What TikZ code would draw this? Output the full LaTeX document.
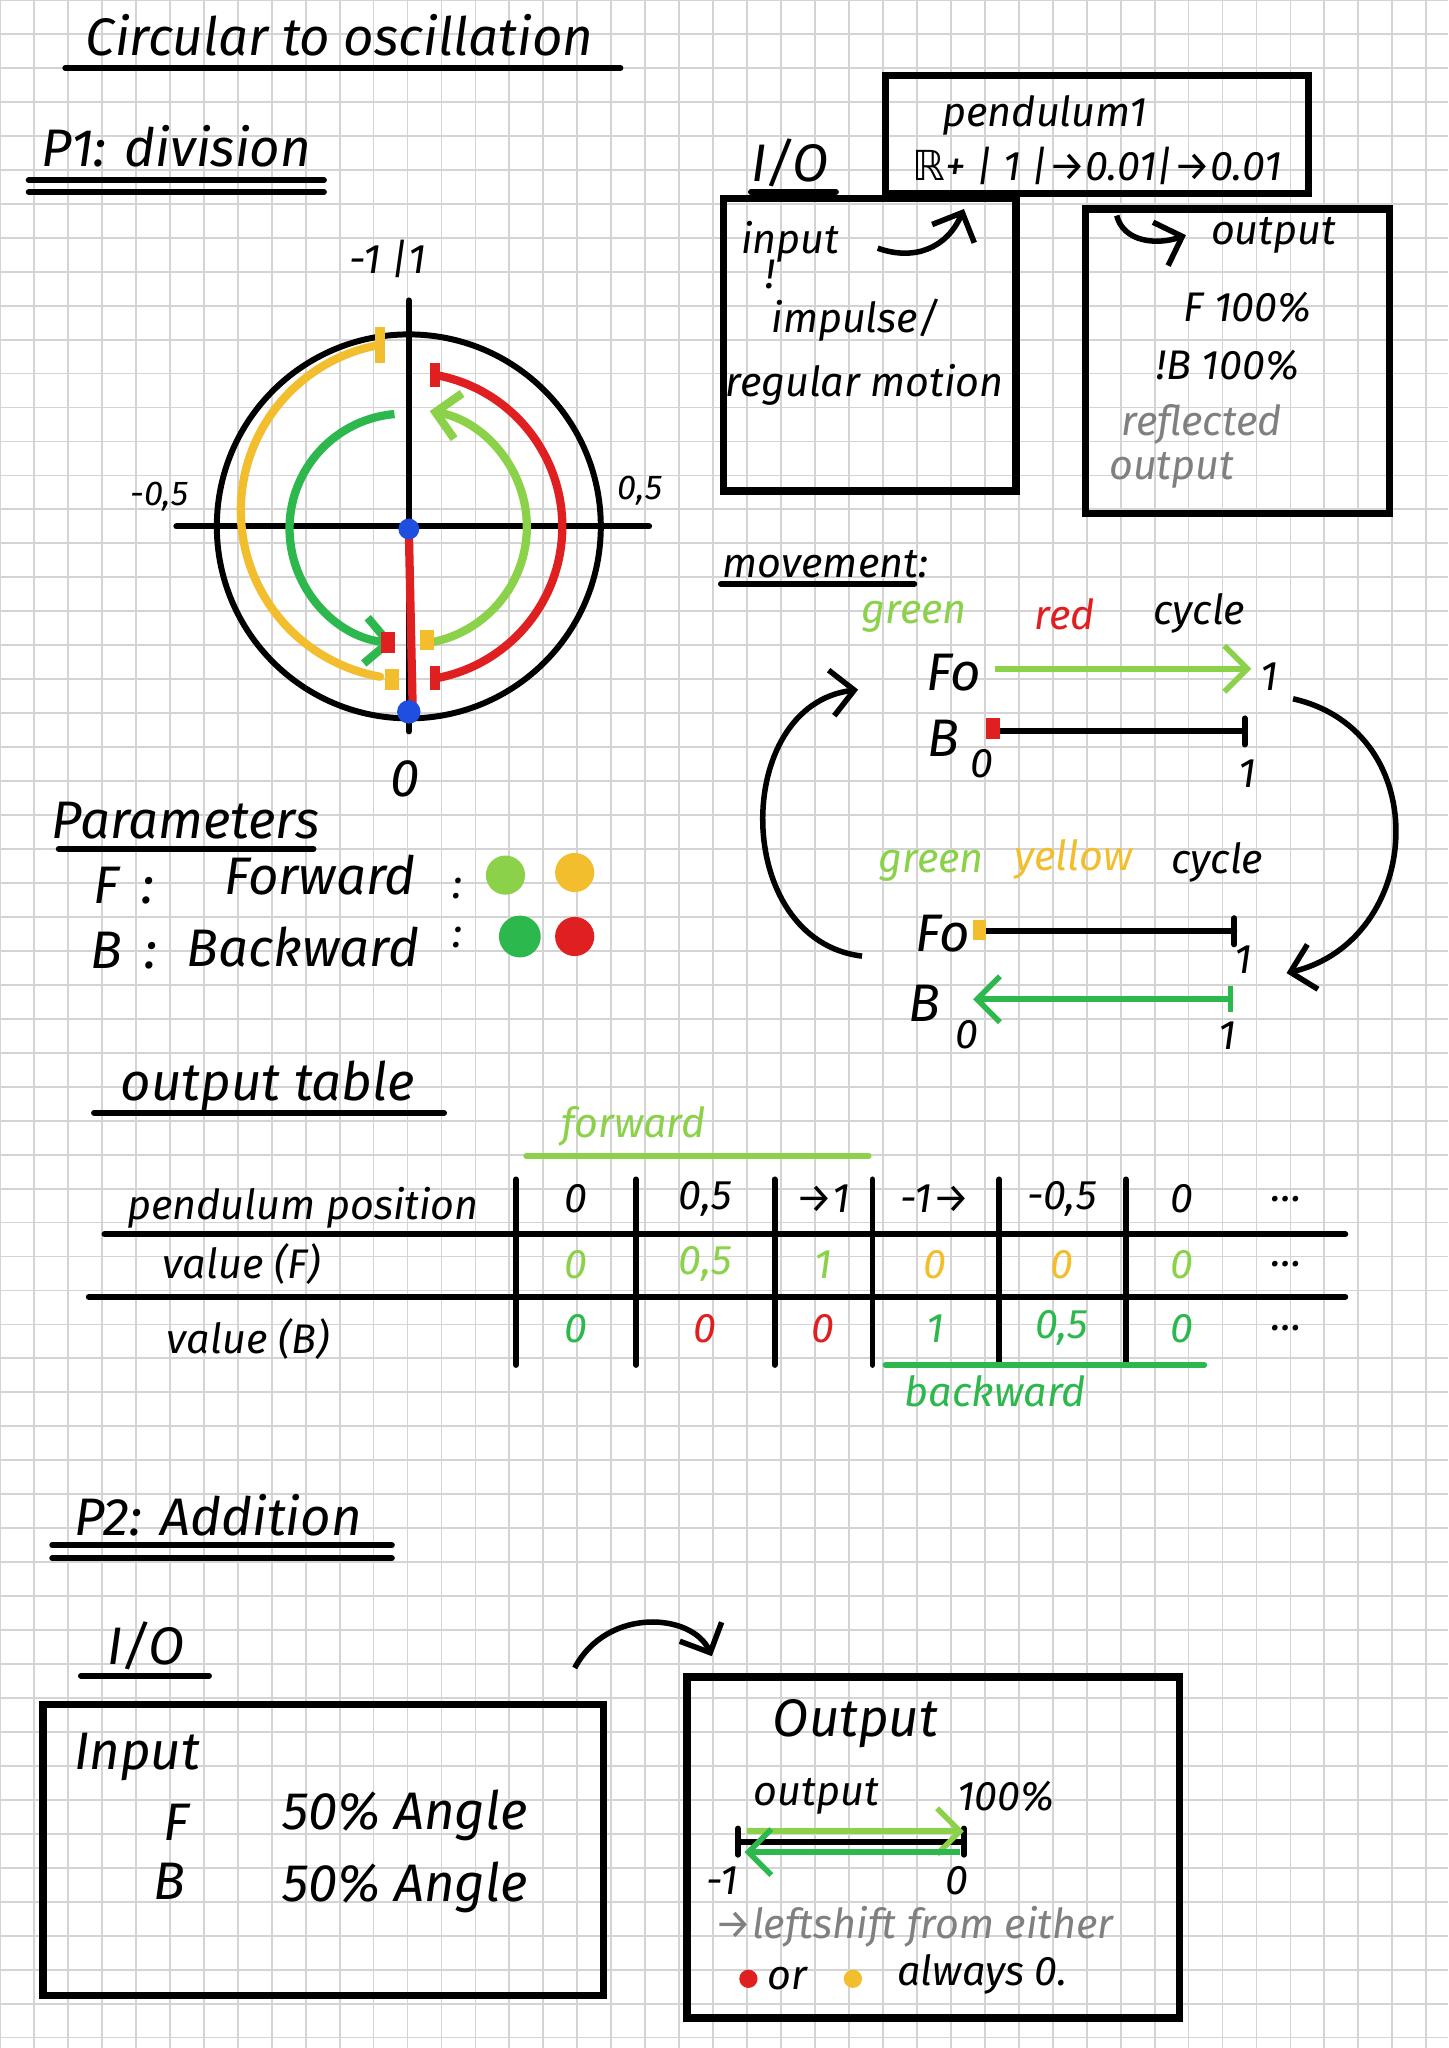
\documentclass[tikz,border=0pt]{standalone}
\usepackage{fontspec}
\setmainfont{Fira Sans}
\newfontfamily\djv{DejaVu Sans}
\usetikzlibrary{arrows.meta}
\definecolor{lg}{HTML}{8BD14A}
\definecolor{dg}{HTML}{2DB84D}
\definecolor{rd}{HTML}{E02020}
\definecolor{yl}{HTML}{F2BE2E}
\definecolor{bl}{HTML}{1E4FE0}
\definecolor{gridc}{HTML}{D4D4D4}
\tikzset{
  hw/.style={font=\fontsize{9}{10}\selectfont\itshape, inner sep=1pt},
  big/.style={font=\fontsize{11.5}{12}\selectfont\itshape, inner sep=1pt},
  sm/.style={font=\fontsize{7.5}{8}\selectfont\itshape, inner sep=1pt},
  ln/.style={line width=1.3pt, line cap=round},
  box/.style={line width=1.6pt},
  arr/.style={line width=1.2pt,-{Straight Barb[length=5pt]}},
}
\begin{document}
\begin{tikzpicture}[x=0.01cm,y=-0.01cm]
\useasboundingbox (0,0) rectangle (1109,1568);
\fill[white] (0,0) rectangle (1109,1568);
\foreach \i in {0,...,43} \draw[gridc, line width=0.4pt] (\i*26,0) -- (\i*26,1568);
\foreach \i in {0,...,61} \draw[gridc, line width=0.4pt] (0,\i*26) -- (1109,\i*26);
% title
\node[big] (title) at (260,27) {Circular to oscillation};
\draw[ln] (50,52) -- (475,52);
\node[big] (p1) at (135,112) {P1: division};
\draw[ln] (22,138) -- (248,138); \draw[ln] (22,147) -- (248,147);
% circle
\draw[ln] (313,403) circle[radius=147];
\draw[ln] (135,403) -- (497,403);
\draw[ln] (313,230) -- (313,560);
\node[hw] (lm1) at (297,198) {-1 |1};
\node[sm] (lm05) at (122,380) {-0,5};
\node[sm] (lp05) at (490,376) {0,5};
\node[big] (l0) at (310,596) {0};
\draw[yl, ln, line width=1.8pt] (291,264) arc[start angle=260,end angle=100,radius=129];
\draw[yl, line width=2pt] (291,250) -- (291,278);
\draw[dg, arr, line width=1.8pt] (302,317) arc[start angle=265,end angle=95,radius=88];
\draw[rd, ln, line width=1.8pt] (333,287) arc[start angle=280,end angle=440,radius=118];
\draw[rd, line width=2pt] (333,278) -- (333,296);
\draw[rd, line width=2pt] (333,510) -- (333,528);
\draw[lg, arr, line width=1.8pt] (329,492) arc[start angle=80,end angle=-80,radius=90];
\draw[rd, line width=3pt] (297,484) -- (297,500);
\draw[yl, line width=3pt] (327,482) -- (327,498);
\draw[yl, line width=3pt] (300,512) -- (300,528);
\draw[rd, line width=1.8pt] (313,405) -- (316,545);
\fill[bl] (313,405) circle[radius=8];
\fill[bl] (313,545) circle[radius=9];
% parameters
\node[big] (par) at (142,628) {Parameters};
\draw[ln] (45,650) -- (240,650);
\node[big] (pf) at (95,678) {F\, :};
\node[big] (fw) at (245,670) {Forward};
\node[hw] (c1) at (350,680) {:};
\fill[lg] (387,670) circle[radius=15];
\fill[yl] (440,668) circle[radius=15];
\node[big] (pb) at (95,728) {B\, :};
\node[big] (bw) at (232,725) {Backward};
\node[hw] (c2) at (350,718) {:};
\fill[dg] (398,717) circle[radius=16];
\fill[rd] (440,717) circle[radius=15];
% I/O pendulum
\node[big] (io1) at (605,125) {I/O};
\draw[ln] (575,147) -- (640,147);
\draw[box] (678,58) rectangle (1002,148);
\node[hw] (pend) at (800,88) {pendulum1};
\node[hw] (pdom) at (840,127) {{\djv ℝ}+ | 1 |→0.01|→0.01};
\draw[box] (554,152) rectangle (778,376);
\node[hw] (inp) at (605,185) {input};
\node[hw] (imp) at (655,245) {impulse/};
\node[hw] (reg) at (662,295) {regular motion};
\node[hw] (exc) at (590,210) {!};
\coordinate (ia) at (672,190); \coordinate (ib) at (738,160);
\draw[arr] (ia) .. controls (700,200) and (725,190) .. (ib);
\draw[box] (831,160) rectangle (1064,393);
\coordinate (oa) at (855,165); \coordinate (ob) at (908,180);
\draw[arr] (oa) .. controls (860,185) and (885,188) .. (ob);
\node[hw] (outp) at (975,180) {output};
\node[hw] (f100) at (955,235) {F 100\%};
\node[hw] (b100) at (940,280) {!B 100\%};
\node[hw, gray] (refl) at (920,325) {reflected};
\node[hw, gray] (refo) at (897,360) {output};
% movement
\node[hw] (mov) at (632,432) {movement:};
\draw[ln] (552,447) -- (700,447);
\node[hw, lg] (gr1) at (700,472) {green};
\node[hw, rd] (rd1) at (815,470) {red};
\node[hw] (cy1) at (918,470) {cycle};
\node[big] (F1) at (730,515) {Fo};
\draw[lg, arr] (762,512) -- (958,512);
\node[hw] (one1) at (972,518) {1};
\node[big] (B1) at (722,565) {B};
\draw[ln] (760,560) -- (953,560); \draw[ln] (953,550) -- (953,570);
\draw[rd, line width=3pt] (760,550) -- (760,566);
\node[hw] (z1) at (752,585) {0};
\node[hw] (one2) at (955,592) {1};
\node[hw, lg] (gr2) at (713,663) {green};
\node[hw, yl] (yl2) at (822,658) {yellow};
\node[hw] (cy2) at (932,660) {cycle};
\node[big] (F2) at (722,715) {Fo};
\draw[ln] (750,713) -- (945,713); \draw[ln] (945,703) -- (945,723);
\draw[yl, line width=3pt] (750,704) -- (750,720);
\node[hw] (one3) at (952,735) {1};
\node[big] (B2) at (708,768) {B};
\draw[dg, arr] (942,765) -- (745,765); \draw[dg, line width=1.2pt] (942,755) -- (942,775);
\node[hw] (z2) at (740,792) {0};
\node[hw] (one4) at (940,793) {1};
\coordinate (la) at (660,732); \coordinate (lb) at (657,528);
\draw[arr] (la) .. controls (560,720) and (560,540) .. (lb);
\coordinate (ra) at (990,535); \coordinate (rb) at (985,745);
\draw[arr] (ra) .. controls (1100,560) and (1090,720) .. (rb);
% output table
\node[big] (ot) at (205,832) {output table};
\draw[ln] (72,852) -- (340,852);
\node[hw, lg] (fwd) at (485,862) {forward};
\draw[lg, ln] (403,885) -- (665,885);
\node[hw] (pp) at (232,925) {pendulum position};
\node[hw] (vf) at (185,968) {value (F)};
\node[hw] (vb) at (190,1025) {value (B)};
\foreach \x in {395,487,593,668,765,862} \draw[ln] (\x,903) -- (\x,1045);
\draw[ln] (80,945) -- (1030,945);
\draw[ln] (68,993) -- (1030,993);
\foreach \x/\t [count=\i] in {441/0,540/{0,5},630/→1,716/-1→,813/{-0,5},905/0,985/{\dots}}
  \node[hw] (h\i) at (\x,918) {\t};
\foreach \x/\t/\c [count=\i] in {441/0/lg,540/{0,5}/lg,630/1/lg,716/0/yl,813/0/yl,905/0/lg,985/{\dots}/black}
  \node[hw, \c] (f\i) at (\x,968) {\t};
\foreach \x/\t/\c [count=\i] in {441/0/dg,540/0/rd,630/0/rd,716/1/dg,813/{0,5}/dg,905/0/dg,985/{\dots}/black}
  \node[hw, \c] (b\i) at (\x,1017) {\t};
\draw[dg, ln] (678,1045) -- (922,1045);
\node[hw, dg] (bwd) at (762,1065) {backward};
% P2
\node[big] (p2) at (167,1160) {P2: Addition};
\draw[ln] (40,1183) -- (300,1183); \draw[ln] (40,1193) -- (300,1193);
\node[big] (io2) at (112,1260) {I/O};
\draw[ln] (62,1283) -- (160,1283);
\coordinate (ca) at (440,1277); \coordinate (cb) at (545,1268);
\draw[arr] (ca) .. controls (465,1230) and (530,1235) .. (cb);
\draw[box] (33,1305) rectangle (462,1528);
\node[big] (inp2) at (105,1345) {Input};
\node[big] (F3) at (135,1395) {F};
\node[big] (a1) at (310,1390) {50\% Angle};
\node[big] (B3) at (130,1440) {B};
\node[big] (a2) at (310,1445) {50\% Angle};
\draw[box] (526,1284) rectangle (903,1545);
\node[big] (out2) at (655,1320) {Output};
\node[hw] (out3) at (625,1375) {output};
\node[hw] (p100) at (770,1375) {100\%};
\draw[ln] (565,1410) -- (738,1410);
\draw[ln] (565,1400) -- (565,1420); \draw[ln] (738,1400) -- (738,1420);
\draw[lg, arr] (572,1402) -- (738,1402);
\draw[dg, arr] (735,1418) -- (570,1418);
\node[hw] (m1) at (553,1440) {-1};
\node[hw] (z3) at (733,1440) {0};
\node[hw, gray] (ls) at (700,1475) {→leftshift from either};
\fill[rd] (573,1515) circle[radius=7];
\node[hw] (or) at (603,1515) {or};
\fill[yl] (653,1515) circle[radius=7];
\node[hw] (alw) at (752,1512) {always 0.};
\end{tikzpicture}
\end{document}
